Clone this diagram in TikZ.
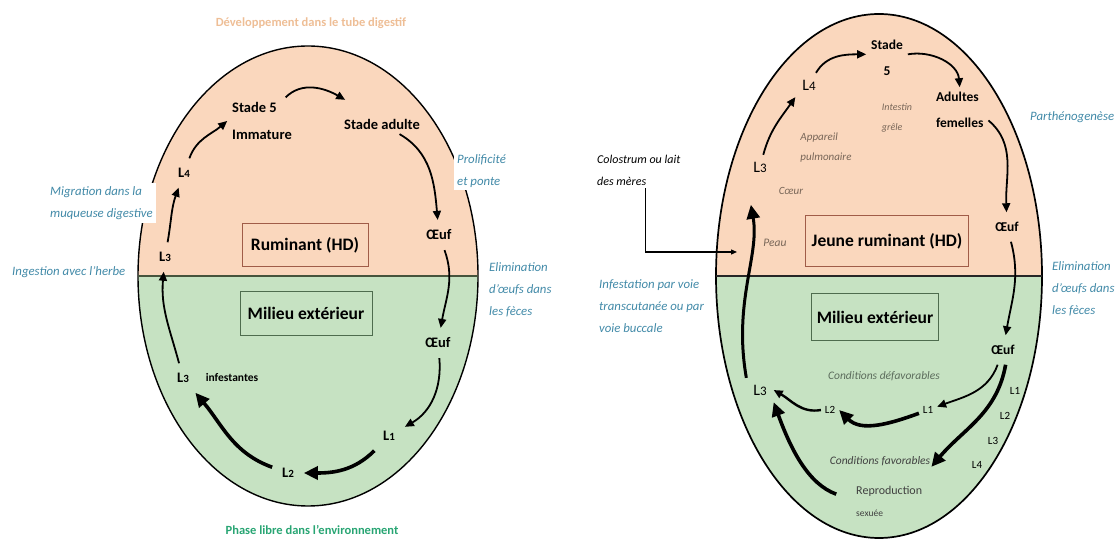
\documentclass[tikz,border=0pt]{standalone}
\usepackage{fontspec}
\setmainfont{Carlito}
\usetikzlibrary{arrows.meta, positioning}

\definecolor{peach}{RGB}{250,215,189}
\definecolor{meadow}{RGB}{198,226,194}
\definecolor{notecol}{RGB}{66,138,168}
\definecolor{devcol}{RGB}{238,190,150}
\definecolor{envcol}{RGB}{40,165,115}
\definecolor{boxred}{RGB}{160,92,72}
\definecolor{boxgreen}{RGB}{78,108,78}
\definecolor{linecol}{RGB}{70,84,60}
\definecolor{organcol}{RGB}{120,102,88}
\definecolor{condcol}{RGB}{92,108,92}

\newcommand{\lv}[2][11]{L{\fontsize{#1}{#1}\selectfont #2}}

\tikzset{
  stage/.style={font=\bfseries\fontsize{14.5}{27}\selectfont, align=left, inner sep=2pt, outer sep=3pt},
  larva/.style={stage, outer sep=8pt},
  stager/.style={font=\bfseries\fontsize{13.5}{26}\selectfont, align=left, inner sep=2pt, outer sep=3pt},
  larvar/.style={font=\fontsize{16}{16}\selectfont, inner sep=2pt, outer sep=5pt},
  lsmall/.style={font=\fontsize{11}{11}\selectfont, inner sep=1pt, outer sep=3pt},
  note/.style={font=\itshape\fontsize{12.8}{22}\selectfont, text=notecol, align=left, inner sep=3pt},
  organ/.style={font=\itshape\fontsize{11}{20}\selectfont, text=organcol, align=left, inner sep=1pt},
  cond/.style={font=\itshape\fontsize{11.5}{13}\selectfont, text=condcol, inner sep=1pt},
  hdbox/.style={draw, line width=0.9pt, font=\bfseries\fontsize{17.5}{20}\selectfont},
  title/.style={font=\bfseries\fontsize{12.5}{14}\selectfont},
  divider/.style={draw=linecol, line width=2.6pt},
  outline/.style={draw=black, line width=1.4pt},
  arr/.style={-{Triangle[length=9pt,width=8pt]}, line width=1.8pt},
  bigarr/.style={-{Triangle[length=14pt,width=13pt]}, line width=3.6pt},
}

\begin{document}
\begin{tikzpicture}[x=1pt, y=1pt]
\useasboundingbox (0,0) rectangle (1115,543);

% left cycle: ruminant
\begin{scope}
  \clip (308,267) ellipse [x radius=170, y radius=230];
  \fill[meadow] (130,30) rectangle (490,267);
  \fill[peach] (130,267) rectangle (490,505);
\end{scope}
\draw[outline] (308,267) ellipse [x radius=170, y radius=230];
\draw[divider] (138,267) -- (478,267);

% right cycle: jeune ruminant
\begin{scope}
  \clip (879,267) ellipse [x radius=163, y radius=262];
  \fill[meadow] (700,0) rectangle (1060,267);
  \fill[peach] (700,267) rectangle (1060,535);
\end{scope}
\draw[outline, line width=1.7pt] (879,267) ellipse [x radius=163, y radius=262];
\draw[divider, draw=black!85] (716,267) -- (1042,267);

% left nodes
\node[title, text=devcol] (t_dev) at (311,520) {Développement dans le tube digestif};
\node[hdbox, draw=boxred, minimum width=126pt, minimum height=43pt] (b_rum) at (305,298) {Ruminant (HD)};
\node[hdbox, draw=boxgreen, minimum width=132pt, minimum height=44pt] (b_ext) at (306,230) {Milieu extérieur};
\node[stage] (s_5) at (262,422) {Stade 5\\Immature};
\node[stage] (s_a) at (382,419) {Stade adulte};
\node[larva] (l_4) at (184,370) {\lv{4}};
\node[larva] (l_3) at (165,286) {\lv{3}};
\node[larva] (o_h) at (439,308) {Œuf};
\node[larva] (o_x) at (438,200) {Œuf};
\node[larva] (l_1) at (389,107) {\lv{1}};
\node[larva] (l_2) at (288,70) {\lv{2}};
\node[larva] (l_3x) at (183,165) {\lv{3}};
\node[font=\bfseries\fontsize{11.5}{12}\selectfont, inner sep=1pt] (n_inf) at (232,165) {infestantes};
\node[title, text=envcol] (t_env) at (312,13) {Phase libre dans l'environnement};

\path[arr]
  (l_3) edge[out=80, in=250] (l_4)
  (l_4) edge[out=70, in=220] (s_5.west)
  (s_5) edge[out=45, in=150] ([shift={(6pt,14pt)}]s_a.north west)
  (s_a) edge[out=-30, in=95] (o_h)
  (o_h) edge[out=-70, in=80] (o_x)
  (o_x) edge[out=-85, in=30] (l_1)
  (l_3x) edge[out=105, in=-95] (l_3);
\path[bigarr]
  (l_1) edge[out=-135, in=0] (l_2)
  (l_2) edge[out=160, in=-50] (l_3x);

\node[note, anchor=west, fill=white] (n_mig) at (47,340) {Migration dans la\\muqueuse digestive};
\node[note, anchor=west] (n_ing) at (9,271) {Ingestion avec l'herbe};
\node[note, anchor=west, fill=white] (n_pro) at (454,372) {Prolificité\\et ponte};
\node[note, anchor=west] (n_eli) at (486,253) {Elimination\\d'œufs dans\\les fèces};

% right nodes
\node[hdbox, draw=boxred, minimum width=163pt, minimum height=51pt] (b_jr) at (887,302) {Jeune ruminant\ (HD)};
\node[hdbox, draw=boxgreen, minimum width=127pt, minimum height=47pt] (b_ext2) at (875,226) {Milieu extérieur};
\node[stager, align=center] (st) at (887,485) {Stade\\5};
\node[larvar] (l4r) at (809,458) {\lv[13]{4}};
\node[larvar] (l3r) at (760,376) {\lv[13]{3}};
\node[organ] (n_app) at (826,395) {Appareil\\pulmonaire};
\node[organ, font=\itshape\fontsize{10}{20}\selectfont] (n_int) at (897,425) {Intestin\\grêle};
\node[stager, anchor=west] (adf) at (931,433) {Adultes\\femelles};
\node[stager, outer sep=8pt] (ohr) at (1007,316) {Œuf};
\node[organ] (n_coe) at (791,352) {Cœur};
\node[organ, font=\itshape\fontsize{11.5}{12}\selectfont] (n_peau) at (775,300) {Peau};
\node[stager, outer sep=8pt] (oxr) at (1003,193) {Œuf};
\node[cond] (n_def) at (884,167) {Conditions défavorables};
\node[lsmall] (l1r) at (928,133) {L1};
\node[lsmall] (l2r) at (830,133) {L2};
\node[larvar] (l3rx) at (760,153) {\lv[13]{3}};
\node[cond, text=black!75] (n_fav) at (880,82) {Conditions favorables};
\node[font=\fontsize{12}{22}\selectfont, text=black!75, align=left, anchor=west, inner sep=1pt]
  (n_rep) at (855,42) {Reproduction\\{\fontsize{9.5}{9.5}\selectfont sexuée}};
\foreach \k/\x/\y in {1/1015/152, 2/1005/127, 3/993/102, 4/977/78}
  \node[lsmall] (lab_\k) at (\x,\y) {L\k};

\node[note, text=black, font=\itshape\fontsize{12}{22}\selectfont, anchor=west] (n_colo) at (594,373) {Colostrum ou lait\\des mères};
\node[note, anchor=west] (n_vie) at (596,237) {Infestation par voie\\transcutanée ou par\\voie buccale};
\node[note, anchor=west] (n_par) at (1027,426) {Parthénogenèse};
\node[note, anchor=west] (n_eli2) at (1049,254) {Elimination\\d'œufs dans\\les fèces};
\coordinate (c_in) at (737,291);

\path[arr]
  (l3r) edge[out=75, in=235] (l4r.south west)
  (l4r) edge[out=60, in=180] (st.170)
  (st.10) edge[out=10, in=95] (adf.north)
  (adf.-20) edge[out=-40, in=92] (ohr)
  (ohr) edge[out=-75, in=80] (oxr)
  (oxr) edge[out=-110, in=20] (l1r)
  (l2r.west) edge[out=190, in=-30, line width=2.4pt] (l3rx.east);
\path[bigarr]
  (l1r) edge[out=-160, in=-45] (l2r.east)
  (oxr.-80) edge[out=-100, in=50] (n_fav.south east)
  (n_rep.west) edge[out=160, in=-70, shorten <=20pt] (l3rx.south east)
  (l3rx.north west) edge[out=100, in=-80, shorten >=26pt, line width=3pt] (l3r.south west);
\draw[-{Triangle[length=6pt,width=5pt]}, line width=1.2pt] ([xshift=7pt]n_colo.south) |- (c_in);
\end{tikzpicture}
\end{document}
